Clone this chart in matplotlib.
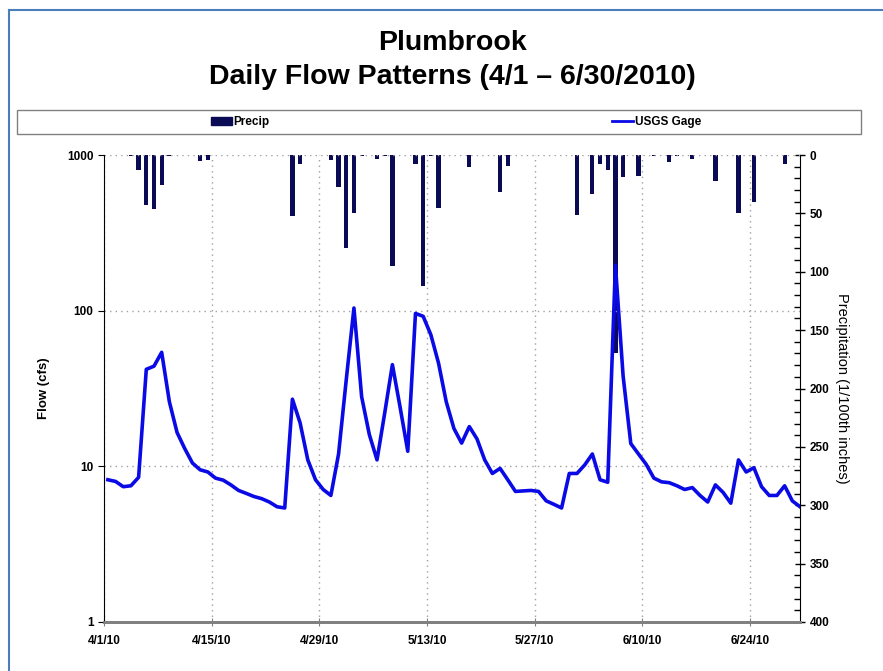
import numpy as np
import matplotlib
matplotlib.use('Agg')
import matplotlib.pyplot as plt
from matplotlib.patches import Rectangle, Patch
from matplotlib.lines import Line2D
from matplotlib.ticker import FixedLocator, MultipleLocator, NullLocator

# Daily mean flow at the USGS gage, 4/1/2010 .. 6/30/2010 (cfs)
flow = [8.2, 8.0, 7.4, 7.5, 8.5, 42, 44, 54, 26, 16.5,
        13, 10.5, 9.5, 9.2, 8.4, 8.15, 7.6, 7.0, 6.7, 6.4,
        6.2, 5.9, 5.5, 5.4, 27, 19, 11, 8.2, 7.1, 6.5,
        12, 36, 104, 28, 16, 11, 22, 45, 24, 12.5,
        96, 92, 70, 46, 26, 17.5, 14.1, 18, 15, 11,
        9.0, 9.7, 8.2, 6.9, 6.95, 7.0, 6.9, 6.0, 5.7, 5.4,
        9.0, 9.0, 10.2, 12, 8.2, 7.9, 196, 38, 14, 12,
        10.3, 8.4, 7.95, 7.85, 7.5, 7.1, 7.3, 6.5, 5.9, 7.6,
        6.8, 5.8, 11, 9.2, 9.8, 7.4, 6.5, 6.5, 7.5, 6.0,
        5.5]

# Daily precipitation (1/100th inches), day offset from 4/1/2010
precip_days = [3, 4, 5, 6, 7, 8, 12, 13, 24, 25, 29, 30, 31, 32, 33, 35, 36, 37,
               40, 41, 42, 43, 47, 51, 52, 61, 63, 64, 65, 66, 67, 69, 71, 73,
               74, 76, 79, 82, 84, 88]
precip_vals = [1, 13, 43, 46, 26, 1, 5, 4, 52, 8, 4, 27, 80, 50, 1, 3, 1, 95,
               8, 112, 1, 45, 10, 32, 9, 51, 33, 8, 13, 170, 19, 18, 1, 6,
               1, 3, 22, 50, 40, 8]

tick_days = [0, 14, 28, 42, 56, 70, 84]
tick_labels = ['4/1/10', '4/15/10', '4/29/10', '5/13/10', '5/27/10', '6/10/10', '6/24/10']

narrow = ['Liberation Sans Narrow', 'Liberation Sans', 'DejaVu Sans']
bar_color = '#0b0b55'
line_color = '#0a0ae6'

fig = plt.figure(figsize=(8.83, 6.71), dpi=100)
W, H = 883, 671

# outer chart border
fig.add_artist(Line2D([9 / W, 9 / W], [0, 1 - 10 / H], color='#4a7ebb', lw=1.5))
fig.add_artist(Line2D([9 / W, 1], [1 - 10 / H, 1 - 10 / H], color='#4a7ebb', lw=1.5))

fig.text(452 / W, 1 - 43 / H, 'Plumbrook', ha='center', va='center',
         fontsize=20.5, fontweight='bold', family='Liberation Sans')
fig.text(452 / W, 1 - 77 / H, 'Daily Flow Patterns (4/1 \u2013 6/30/2010)', ha='center',
         va='center', fontsize=20.5, fontweight='bold', family='Liberation Sans')

# legend box
fig.add_artist(Rectangle((17 / W, 1 - 134 / H), 844 / W, 24 / H, transform=fig.transFigure,
                         facecolor='white', edgecolor='#808080', lw=1))
handles = [Patch(facecolor=bar_color, edgecolor=bar_color),
           Line2D([], [], color=line_color, lw=2)]
fig.legend(handles, ['Precip', 'USGS Gage'], loc='center', bbox_to_anchor=(456 / W, 1 - 122 / H),
           ncol=2, frameon=False, columnspacing=29, handlelength=1.8, handletextpad=0.15,
           prop={'family': narrow, 'weight': 'bold', 'size': 8.5})

ax1 = fig.add_axes([104 / W, 1 - 622 / H, 696 / W, 467 / H])
ax2 = ax1.twinx()

x = np.arange(len(flow)) + 0.5
ax2.bar(np.array(precip_days) + 0.5, precip_vals, width=0.55, color=bar_color, zorder=2)
ax2.set_ylim(400, 0)
ax2.yaxis.set_major_locator(MultipleLocator(50))
ax2.yaxis.set_minor_locator(MultipleLocator(10))
ax2.tick_params(axis='y', which='major', direction='inout', length=7, width=1, labelsize=8.5)
ax2.tick_params(axis='y', which='minor', direction='in', length=4, width=1)
for lab in ax2.get_yticklabels():
    lab.set_family(narrow)
    lab.set_fontweight('bold')
ax2.set_ylabel('Precipitation (1/100th inches)', rotation=-90, labelpad=14,
               fontsize=10.5, family='Liberation Sans')

ax1.set_zorder(ax2.get_zorder() + 1)
ax1.patch.set_visible(False)
ax1.plot(x, flow, color=line_color, lw=2.6, zorder=3, solid_joinstyle='round')
ax1.set_yscale('log')
ax1.set_ylim(1, 1000)
ax1.set_xlim(0, 90.5)
ax1.yaxis.set_major_locator(FixedLocator([1, 10, 100, 1000]))
ax1.yaxis.set_minor_locator(NullLocator())
ax1.set_yticks([1, 10, 100, 1000])
ax1.set_yticklabels(['1', '10', '100', '1000'])
ax1.set_xticks(tick_days)
ax1.set_xticklabels(tick_labels)
ax1.tick_params(axis='y', direction='out', length=4, labelsize=8.5)
ax1.tick_params(axis='x', direction='inout', length=6, color='#808080', labelsize=8.5, pad=6)
for lab in ax1.get_yticklabels() + ax1.get_xticklabels():
    lab.set_family(narrow)
    lab.set_fontweight('bold')
ax1.set_ylabel('Flow (cfs)', fontsize=9.5, fontweight='bold', family='Liberation Sans', labelpad=12)

ax1.grid(True, axis='both', which='major', linestyle=(0, (1, 3)), color='#a0a0a0', lw=1)

for ax in (ax1, ax2):
    ax.spines['top'].set_visible(False)
    ax.spines['bottom'].set_color('#808080')
    ax.spines['bottom'].set_linewidth(2)
ax1.spines['right'].set_visible(False)
ax2.spines['left'].set_visible(False)

fig.savefig('out.png', dpi=100)
